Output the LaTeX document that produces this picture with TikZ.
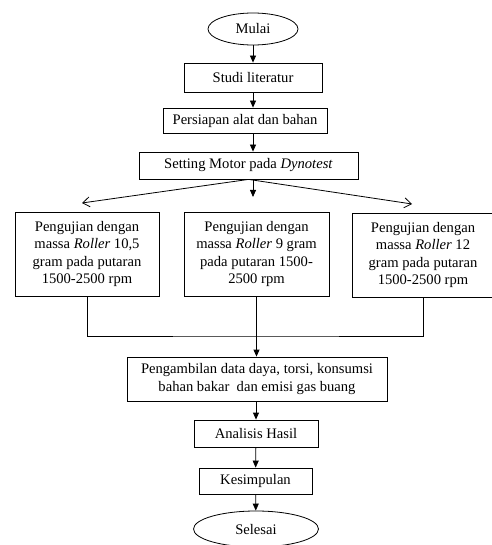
\documentclass[tikz,border=0pt]{standalone}
\usepackage{fontspec}
\setmainfont{Liberation Serif}
\usetikzlibrary{arrows.meta,positioning,shapes.geometric}

\begin{document}
\begin{tikzpicture}[x=1pt,y=-1pt,
  box/.style={draw,line width=0.8pt,align=center,inner sep=1pt,font=\fontsize{14.6}{17.3}\selectfont},
  term/.style={draw,ellipse,line width=0.8pt,inner sep=0pt,font=\fontsize{14.6}{17.3}\selectfont},
  arr/.style={-{Triangle[length=7pt,width=6pt]},line width=0.8pt},
  barb/.style={-{Straight Barb[length=7pt,width=10pt]},line width=0.8pt}]
  \useasboundingbox (0,0) rectangle (491,545);
  \node[term,minimum width=90,minimum height=32] (mulai) at (253,29) {Mulai};
  \node[box,minimum width=138,minimum height=29] (studi) at (253,77.5) {Studi literatur};
  \node[box,minimum width=164,minimum height=25] (siap) at (245,120.5) {Persiapan alat dan bahan};
  \node[box,minimum width=219,minimum height=27] (setting) at (248.5,165.5) {Setting Motor pada \textit{Dynotest}};
  \node[box,minimum width=144,minimum height=84] (uji1) at (87,254) {Pengujian dengan\\massa \textit{Roller} 10,5\\gram pada putaran\\1500-2500 rpm};
  \node[box,minimum width=145,minimum height=84] (uji2) at (256.5,254) {Pengujian dengan\\massa \textit{Roller} 9 gram\\pada putaran 1500-\\2500 rpm};
  \node[box,minimum width=142,minimum height=84] (uji3) at (423,255) {Pengujian dengan\\massa \textit{Roller} 12\\gram pada putaran\\1500-2500 rpm};
  \node[box,minimum width=260,minimum height=44] (data) at (257,379) {Pengambilan data daya, torsi, konsumsi\\bahan bakar\ \ dan emisi gas buang};
  \node[box,minimum width=124,minimum height=27] (analisis) at (256,433.5) {Analisis Hasil};
  \node[box,minimum width=113,minimum height=26] (simpul) at (255.5,481) {Kesimpulan};
  \node[term,minimum width=125,minimum height=36] (selesai) at (256,529) {Selesai};
  \coordinate (cabang) at (253,197);
  \coordinate (kiri) at (82,203);
  \coordinate (kanan) at (412,204);
  \coordinate (gabung) at (256.5,336);
  \draw[arr] (mulai) -- (studi);
  \draw[arr] (studi) -- (studi |- siap.north);
  \draw[arr] (studi |- siap.south) -- (studi |- setting.north);
  \draw[arr] (studi |- setting.south) -- (cabang);
  \draw[barb] (setting.south) -- (kiri);
  \draw[barb] (setting.south) -- (kanan);
  \draw[line width=0.8pt] (uji1.south) |- (gabung) -| (uji3.south);
  \draw[line width=0.8pt] (uji2.south) -- (gabung);
  \draw[arr] (gabung) -- (gabung |- data.north);
  \draw[arr] (analisis |- data.south) -- (analisis);
  \draw[arr] (analisis) -- (simpul);
  \draw[arr] (simpul) -- (selesai);
\end{tikzpicture}
\end{document}
